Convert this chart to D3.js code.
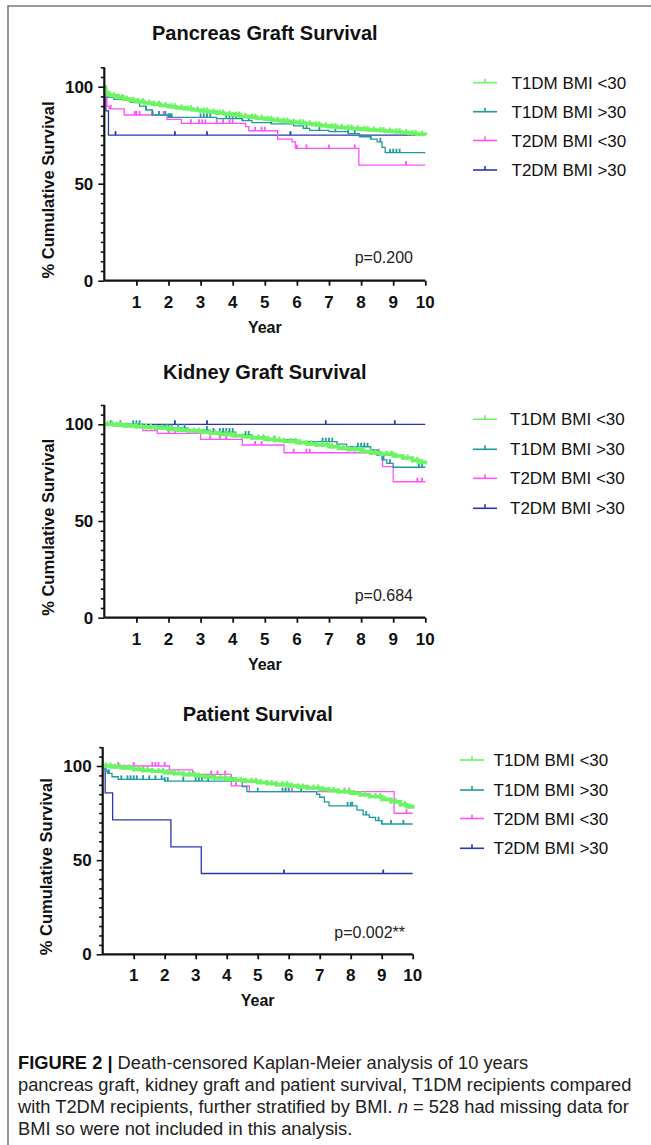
<!DOCTYPE html>
<html>
<head>
<meta charset="utf-8">
<script src="https://cdn.jsdelivr.net/npm/d3@7"></script>
<style>
  html, body { margin: 0; padding: 0; background: #fff; }
  svg { display: block; font-family: "Liberation Sans", Arial, Helvetica, sans-serif; }
</style>
</head>
<body>
<svg id="fig" width="651" height="1145"></svg>
<script>
// ---------------- DATA ----------------
const seriesNames = ["T1DM BMI <30", "T1DM BMI >30", "T2DM BMI <30", "T2DM BMI >30"];
const panelTitles = ["Pancreas Graft Survival", "Kidney Graft Survival", "Patient Survival"];
const pValues = ["p=0.200", "p=0.684", "p=0.002**"];
const xTickValues = [1, 2, 3, 4, 5, 6, 7, 8, 9, 10];
const yTickLabels = [0, 50, 100];

// Pancreas graft survival: [year, % survival] step points; censor times
const pancT1lt30 = [[0,100],[0.02,98.5],[0.05,97],[0.1,96],[0.2,95.3],[0.4,94.5],[0.6,93.6],[0.8,93],[1.0,92.3],[1.25,91.6],[1.5,91],[1.75,90.3],[2.0,89.7],[2.25,89.1],[2.5,88.6],[2.75,88],[3.0,87.5],[3.25,87],[3.5,86.4],[3.75,85.9],[4.0,85.4],[4.25,84.8],[4.5,84.3],[4.75,83.7],[5.0,83.2],[5.25,82.7],[5.5,82.3],[5.75,81.8],[6.0,81.4],[6.25,80.9],[6.5,80.4],[6.75,79.9],[7.0,79.4],[7.25,79],[7.5,78.7],[7.75,78.3],[8.0,78],[8.25,77.7],[8.5,77.4],[8.75,77.1],[9.0,76.8],[9.25,76.4],[9.5,75.9],[9.75,75.5],[10,75.1]];
const pancT1lt30Cens = [0.15,0.3,0.45,0.55,0.7,0.9,1.05,1.2,1.4,1.55,1.7,1.9,2.1,2.2,2.4,2.6,2.7,2.9,3.1,3.2,3.4,3.6,3.7,3.9,4.1,4.2,4.4,4.6,4.7,4.9,5.1,5.2,5.4,5.6,5.7,5.9,6.1,6.2,6.4,6.6,6.7,6.9,7.1,7.2,7.4,7.6,7.7,7.9,8.1,8.2,8.4,8.6,8.7,8.9,9.1,9.2,9.4,9.6,9.7,9.9];
const pancT1gt30 = [[0,100],[0.05,96],[0.1,94.5],[0.3,93.5],[0.8,92],[1.1,90],[1.3,88],[1.5,85.4],[2.0,84.2],[3.5,83.5],[4.3,82.5],[4.6,81.5],[5.2,80.8],[5.9,79.8],[6.2,78.5],[6.4,77.5],[7.0,76.8],[7.6,75.8],[7.95,74.2],[8.3,73],[8.5,71.6],[8.65,68.7],[8.75,66],[10,66]];
const pancT1gt30Cens = [0.6,1.3,1.5,1.7,1.9,2.0,2.05,2.1,3.0,3.1,3.2,3.3,3.8,3.9,4.0,4.1,4.3,4.5,5.2,5.8,6.3,6.7,7.2,7.6,7.8,8.3,8.6,8.9,9.0,9.1,9.2];
const pancT2lt30 = [[0,100],[0.03,95],[0.08,90],[0.15,88.6],[0.62,85.4],[1.95,83.2],[2.4,81.1],[4.4,79.4],[4.5,77.3],[5.4,73],[5.85,71.6],[5.95,68.2],[7.93,59.6],[10,59.6]];
const pancT2lt30Cens = [0.2,0.95,1.0,1.1,1.5,1.7,1.85,2.7,2.95,3.05,3.15,3.5,3.7,3.9,4.0,4.7,4.9,5.0,6.0,6.3,7.0,7.8,9.4];
const pancT2gt30 = [[0,100],[0.05,87.5],[0.13,75],[10,75]];
const pancT2gt30Cens = [0.35,2.2,3.2,5.8];

// Kidney graft survival
const kidT1lt30 = [[0,100],[0.3,99.6],[0.6,99.2],[1.0,98.8],[1.3,98.4],[1.6,98],[2.0,97.4],[2.3,97],[2.6,96.5],[3.0,95.9],[3.3,95.4],[3.6,94.8],[4.0,94.1],[4.3,93.6],[4.6,93],[5.0,92.2],[5.3,91.7],[5.6,91.2],[6.0,90.5],[6.3,89.9],[6.6,89.3],[7.0,88.4],[7.3,87.7],[7.6,87],[8.0,85.9],[8.3,85.2],[8.6,84.6],[9.0,83.6],[9.3,82.6],[9.6,81.3],[9.8,80.3],[10,79.3]];
const kidT1lt30Cens = [0.1,0.25,0.4,0.5,0.7,0.85,1.0,1.15,1.3,1.45,1.6,1.8,1.95,2.1,2.3,2.45,2.6,2.8,2.95,3.1,3.3,3.45,3.6,3.8,3.95,4.1,4.3,4.45,4.6,4.8,4.95,5.1,5.3,5.45,5.6,5.8,5.95,6.1,6.3,6.45,6.6,6.8,6.95,7.1,7.3,7.45,7.6,7.8,7.95,8.1,8.3,8.45,8.6,8.8,8.95,9.1,9.3,9.45,9.6,9.75,9.9];
const kidT1gt30 = [[0,100],[1.2,99],[1.9,98],[2.6,97],[3.3,96],[4.1,94.5],[4.6,93],[5.0,92],[6.0,91],[7.25,89.7],[7.55,88.4],[8.3,86.7],[8.5,84],[8.65,81.6],[8.8,79.8],[9.0,77.8],[10,77.8]];
const kidT1gt30Cens = [0.2,0.5,0.9,1.0,1.1,1.9,2.0,2.1,2.3,2.5,3.2,3.4,3.6,3.7,3.8,3.9,4.0,4.4,4.5,5.0,5.3,6.8,6.9,7.0,7.1,7.9,8.0,8.1,8.2,8.7,8.9,9.8,9.9];
const kidT2lt30 = [[0,100],[1.2,96.7],[1.65,95.3],[3.0,92.2],[4.3,89.3],[5.6,85.3],[8.67,78.1],[9.0,70.3],[10,70.3]];
const kidT2lt30Cens = [2.0,2.2,3.3,3.6,3.8,4.7,4.9,5.9,6.3,6.4,8.55,9.75,9.9];
const kidT2gt30 = [[0,100],[10,100]];
const kidT2gt30Cens = [2.2,3.2,6.9,9.05];

// Patient survival
const patT1lt30 = [[0,100],[0.3,99.5],[0.6,99],[1.0,98.2],[1.3,97.7],[1.6,97.2],[2.0,96.5],[2.3,96],[2.6,95.4],[3.0,94.7],[3.3,94.2],[3.6,93.6],[4.0,92.9],[4.3,92.4],[4.6,91.9],[5.0,91.2],[5.3,90.7],[5.6,90.1],[6.0,89.4],[6.3,88.9],[6.6,88.3],[7.0,87.6],[7.3,87],[7.6,86.3],[8.0,85.5],[8.3,84.7],[8.6,83.8],[9.0,82.3],[9.3,81],[9.6,79.5],[9.8,78.4],[10,77.3]];
const patT1lt30Cens = [0.1,0.25,0.4,0.55,0.7,0.85,1.0,1.15,1.3,1.45,1.6,1.8,1.95,2.1,2.3,2.45,2.6,2.8,2.95,3.1,3.3,3.45,3.6,3.8,3.95,4.1,4.3,4.45,4.6,4.8,4.95,5.1,5.3,5.45,5.6,5.8,5.95,6.1,6.3,6.45,6.6,6.8,6.95,7.1,7.3,7.45,7.6,7.8,7.95,8.1,8.3,8.45,8.6,8.8,8.95,9.1,9.3,9.45,9.6,9.75,9.9];
const patT1gt30 = [[0,100],[0.08,97.5],[0.15,96.1],[0.3,94.3],[0.5,92.9],[2.0,92],[4.5,89],[4.65,86.4],[6.9,85],[7.0,83.4],[7.15,81],[7.3,78.8],[8.2,76.6],[8.4,74],[8.6,72.7],[8.8,71],[9.0,69.2],[10,69.2]];
const patT1gt30Cens = [0.1,0.2,0.6,0.8,0.9,1.0,1.1,1.3,1.5,1.7,1.9,2.0,2.1,2.6,3.0,3.1,3.2,3.4,4.2,5.0,5.8,5.9,6.0,6.4,7.9,8.0,8.05,8.5,8.9,9.0,9.3,9.7];
const patT2lt30 = [[0,100],[2.15,97.9],[2.9,95.5],[4.15,89.4],[4.73,86.4],[9.4,74.9],[10,74.9]];
const patT2lt30Cens = [0.5,1.0,1.6,1.7,1.8,2.0,3.5,3.7,3.95,4.3,5.9,6.1,7.8,7.95,9.8];
const patT2gt30 = [[0,100],[0.08,85.7],[0.32,71.4],[2.2,57.1],[3.18,42.9],[10,42.9]];
const patT2gt30Cens = [5.85,9.05];

const captionLines = [
  [{t:"FIGURE 2 | ", b:true}, {t:"Death-censored Kaplan-Meier analysis of 10 years"}],
  [{t:"pancreas graft, kidney graft and patient survival, T1DM recipients compared"}],
  [{t:"with T2DM recipients, further stratified by BMI. "}, {t:"n", i:true}, {t:" = 528 had missing data for"}],
  [{t:"BMI so were not included in this analysis."}]
];

// ---------------- STYLE / LAYOUT ----------------
const colors = ["#6cf464", "#1f9b9b", "#ff52ff", "#2a38b0"];
const panelData = [
  [[pancT1lt30,pancT1lt30Cens],[pancT1gt30,pancT1gt30Cens],[pancT2lt30,pancT2lt30Cens],[pancT2gt30,pancT2gt30Cens]],
  [[kidT1lt30,kidT1lt30Cens],[kidT1gt30,kidT1gt30Cens],[kidT2lt30,kidT2lt30Cens],[kidT2gt30,kidT2gt30Cens]],
  [[patT1lt30,patT1lt30Cens],[patT1gt30,patT1gt30Cens],[patT2lt30,patT2lt30Cens],[patT2gt30,patT2gt30Cens]]
];
const layouts = [
  {x0:104.3, x1:425.3, y0:280.7, y100:86.7, titleY:40, ylabX:54, legX:473, legTx:511.5, legY:[82.7,111.7,140.5,170], pRight:413, pY:263},
  {x0:104.3, x1:425.3, y0:617.7, y100:424.3, titleY:379, ylabX:54, legX:473, legTx:510, legY:[419.3,449.3,478.3,508.3], pRight:413, pY:601},
  {x0:102.7, x1:412.7, y0:954.3, y100:766, titleY:721, ylabX:52, legX:460, legTx:493.5, legY:[760,790,818.5,848.3], pRight:405, pY:938}
];

const svg = d3.select("#fig");

// frame
svg.append("path").attr("d", "M8,1145 L8,6 L651,6")
  .attr("fill","none").attr("stroke","#7a7a7a").attr("stroke-width",1.6);

function stepValue(steps, t) {
  let v = steps[0][1];
  for (const s of steps) { if (s[0] <= t) v = s[1]; else break; }
  return v;
}

layouts.forEach((L, pi) => {
  const g = svg.append("g");
  const x = d3.scaleLinear().domain([0, 10]).range([L.x0, L.x1]);
  const y = d3.scaleLinear().domain([0, 100]).range([L.y0, L.y100]);
  const yTop = y(110);

  // title
  g.append("text").attr("x", (L.x0 + L.x1) / 2).attr("y", L.titleY)
    .attr("text-anchor","middle").attr("font-size", 20).attr("font-weight","bold")
    .attr("fill","#111").text(panelTitles[pi]);

  // curves (draw order: blue, magenta, teal, green)
  const line = d3.line().x(d => x(d[0])).y(d => y(d[1])).curve(d3.curveStepAfter);
  [3, 2, 1, 0].forEach(si => {
    const [steps, cens] = panelData[pi][si];
    const isGreen = si === 0;
    g.append("path").datum(steps).attr("d", line)
      .attr("fill","none").attr("stroke", colors[si])
      .attr("stroke-width", isGreen ? 3.6 : 1.3);
    g.selectAll(null).data(cens).enter().append("line")
      .attr("x1", d => x(d)).attr("x2", d => x(d))
      .attr("y1", d => y(stepValue(steps, d)) + (isGreen ? 2 : 0))
      .attr("y2", d => y(stepValue(steps, d)) - (isGreen ? 3.5 : 4))
      .attr("stroke", colors[si]).attr("stroke-width", isGreen ? 2.2 : 1.8);
  });

  // y axis
  const yAx = d3.scaleLinear().domain([0, 110]).range([L.y0, yTop]);
  const yAxis = d3.axisLeft(yAx).tickValues(d3.range(0, 111, 5))
    .tickSize(3).tickFormat("");
  const ya = g.append("g").attr("transform", `translate(${L.x0},0)`).call(yAxis);
  ya.select(".domain").attr("stroke","#111").attr("stroke-width",2.2).attr("d", `M0,${L.y0}V${yTop}`);
  ya.selectAll(".tick line").attr("stroke","#111").attr("stroke-width",1.6)
    .attr("x2", d => yTickLabels.includes(d) ? -6 : -3.5);
  yTickLabels.forEach(v => {
    g.append("text").attr("x", L.x0 - 11).attr("y", yAx(v) + 6)
      .attr("text-anchor","end").attr("font-size",17).attr("font-weight","bold")
      .attr("fill","#111").text(v);
  });

  // x axis
  const xAxis = d3.axisBottom(x).tickValues(xTickValues).tickSize(5).tickFormat("");
  const xa = g.append("g").attr("transform", `translate(0,${L.y0})`).call(xAxis);
  xa.select(".domain").attr("stroke","#111").attr("stroke-width",2.2).attr("d", `M${L.x0},0H${L.x1}`);
  xa.selectAll(".tick line").attr("stroke","#111").attr("stroke-width",1.8);
  xTickValues.forEach(v => {
    g.append("text").attr("x", x(v)).attr("y", L.y0 + 27)
      .attr("text-anchor","middle").attr("font-size",17).attr("font-weight","bold")
      .attr("fill","#111").text(v);
  });

  // axis titles
  g.append("text").attr("x", (L.x0 + L.x1) / 2).attr("y", L.y0 + 52)
    .attr("text-anchor","middle").attr("font-size",16).attr("font-weight","bold")
    .attr("fill","#111").text("Year");
  const cy = (L.y0 + yTop) / 2 + 16;
  g.append("text").attr("transform", `translate(${L.ylabX},${cy}) rotate(-90)`)
    .attr("text-anchor","middle").attr("font-size",16.5).attr("font-weight","bold")
    .attr("fill","#111").text("% Cumulative Survival");

  // p-value
  g.append("text").attr("x", L.pRight).attr("y", L.pY)
    .attr("text-anchor","end").attr("font-size",16).attr("fill","#222").text(pValues[pi]);

  // legend
  seriesNames.forEach((name, si) => {
    const ly = L.legY[si];
    g.append("line").attr("x1", L.legX).attr("x2", L.legX + 24).attr("y1", ly).attr("y2", ly)
      .attr("stroke", colors[si]).attr("stroke-width", 1.6);
    g.append("line").attr("x1", L.legX + 12).attr("x2", L.legX + 12).attr("y1", ly).attr("y2", ly - 4)
      .attr("stroke", colors[si]).attr("stroke-width", 1.6);
    g.append("text").attr("x", L.legTx).attr("y", ly + 6)
      .attr("font-size", 17).attr("fill","#111").text(name);
  });
});

// caption
const cap = svg.append("g");
captionLines.forEach((parts, li) => {
  const t = cap.append("text").attr("x", 18).attr("y", 1069 + li * 22)
    .attr("font-size", 18.3).attr("fill","#222");
  parts.forEach(p => {
    const ts = t.append("tspan").text(p.t);
    if (p.b) ts.attr("font-weight","bold").attr("fill","#111");
    if (p.i) ts.attr("font-style","italic");
  });
});
</script>
</body>
</html>
